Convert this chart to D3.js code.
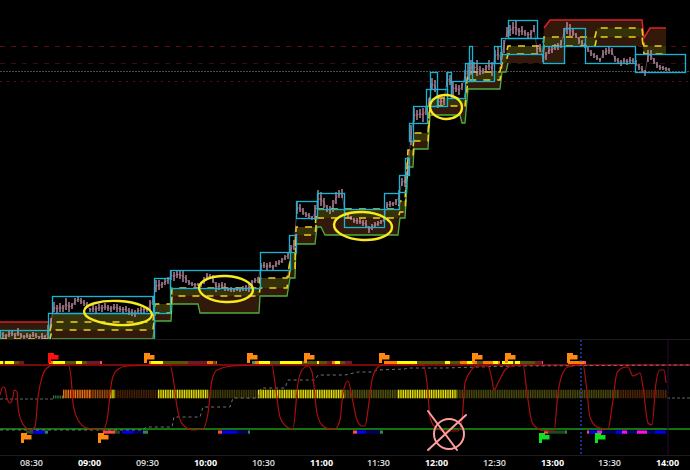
<!DOCTYPE html>
<html><head><meta charset="utf-8">
<script src="https://cdnjs.cloudflare.com/ajax/libs/d3/7.8.5/d3.min.js"></script>
<style>html,body{margin:0;padding:0;background:#000;overflow:hidden}svg{display:block}</style>
</head><body><svg id="c" width="690" height="470"></svg>
<script>
// ---------- data ----------
const tickBars=[31,89,147,205,263,321,378,436,494,552,609,667];
const tickLabels=["08:30","09:00","09:30","10:00","10:30","11:00","11:30","12:00","12:30","13:00","13:30","14:00"];
const barStep=3;
const barHigh=[10,8,6,9,10,7,12,7,5,7,6,8,7,4,7,5,15,22,38,35,37,35,42,38,37,42,44,42,40,38,32,35,34,36,35,37,35,34,36,36,34,33,34,32,31,30,32,33,34,33,40,44,60,60,58,62,63,70,68,70,69,70,65,60,58,57,57,56,63,67,66,65,58,57,58,57,52,53,52,53,52,54,55,56,60,62,63,77,78,77,78,75,79,80,82,85,88,95,100,138,136,132,128,127,124,135,150,148,142,135,134,140,148,150,151,128,126,124,122,122,121,120,120,114,116,118,119,120,122,138,139,138,141,150,162,165,175,215,232,230,231,232,234,242,262,260,245,242,243,268,265,258,256,255,257,270,277,280,278,280,274,272,275,280,278,290,293,288,300,313,315,318,320,312,314,310,308,310,315,295,296,285,288,294,293,296,297,300,312,318,316,312,307,303,300,297,293,290,287,285,282,290,292,293,292,284,282,280,282,281,283,282,280,276,274,270,290,290,282,278,275,274,273,272];
const barLow=[4,2,1,3,4,1,4,2,1,2,1,3,2,1,1,1,1,14,28,27,28,28,30,28,31,35,38,36,34,32,28,28,27,29,28,30,29,28,30,28,28,27,28,25,24,23,26,27,27,28,30,35,48,50,52,55,56,60,59,62,61,58,57,55,54,53,54,53,56,60,61,57,48,50,52,49,49,48,48,49,48,49,49,48,54,57,57,70,72,69,72,70,73,75,77,80,81,88,90,126,128,125,123,122,120,120,132,134,132,128,126,128,136,142,142,124,122,120,117,116,116,114,112,107,110,112,114,116,118,132,133,134,135,137,154,153,165,195,218,220,222,218,225,234,250,248,232,234,235,253,255,245,248,245,250,258,260,265,268,264,265,266,268,270,264,277,280,275,287,303,304,306,305,304,305,304,302,302,308,287,288,278,280,286,287,290,290,292,302,306,304,304,302,296,294,292,288,284,282,280,278,282,285,286,285,278,276,274,277,275,276,277,274,270,268,264,278,280,276,272,270,270,269,269];

const bandBar=[0,48,52,153,155,171,172,198,200,259,260,287,290,295,296,315,317,321,325,398,400,405,408,413,414,428,430,460,462,465,468,500,502,506,508,543,544,550,564,566,595,597,642,644,650,666];
const bandTop=[18,18,27,27,36,36,52,52,52,52,62,62,88,88,113,113,131,131,131,131,139,139,190,190,207,207,242,242,242,242,268,268,286,286,294,294,312,320,320,320,320,320,320,302,312,312];
const bandOlive=[10,10,27,27,36,36,52,52,52,52,62,62,88,88,113,113,131,131,131,131,139,139,190,190,207,207,242,242,242,242,268,268,286,286,294,294,303,303,303,303,303,312,312,294,294,294];
const bandDashA=[1,1,18,18,36,36,52,52,52,52,62,62,78,78,113,113,131,131,131,131,139,139,190,190,207,207,242,242,242,242,268,268,286,286,294,294,303,303,303,303,303,312,312,294,294,294];
const bandDashB=[-8,-8,10,10,27,27,44,44,44,44,52,52,70,70,105,105,122,122,122,122,128,128,182,182,199,199,234,234,234,234,260,260,277,277,286,286,294,294,294,294,294,303,303,286,286,286];
const bandBottom=[-16,-16,1,1,19,19,36,36,27,27,44,44,62,62,96,96,113,113,105,105,122,122,173,173,191,191,225,225,217,217,251,251,268,268,277,277,277,277,277,294,294,294,294,286,286,286];
const greenFromBar=52, greenToBar=508, redFromBar=544;

const boxFrom=[0,48,52,154,170,260,289,296,296,317,344,384,399,405,409,413,426,430,447,451,465,469,494,501,508,508,543,564,585,635];
const boxTo=[48,154,153,170,260,290,296,317,296,344,384,399,406,409,413,427,447,437,451,465,494,472,501,543,537,508,564,585,635,685];
const boxHigh=[10,27,44,62,70,88,105,139,122,147,131,147,165,182,217,234,251,268,268,259,277,294,294,302,320,302,294,312,294,286];
const boxLow=[-5,-5,27,27,52,70,88,122,105,131,113,131,148,165,199,217,234,234,242,242,259,259,277,286,302,277,277,294,277,268];

const levelPrice=[294,277,269,259];
const levelColor=["#5a1010","#3a0c0c","#4a4a4a","#5a1010"];
const levelDash=["5 6","5 6","2 1","2 5"];

const ringBar=[118,226,363,446];
const ringPrice=[27,51,114,233];
const ringWide=[34,27,29,16];
const ringTall=[12,13,14,12];

// lower pane
const oscBar=[0,3,5,7,10,13,14,17,18,21,25,30,35,38,42,47,53,68,71,73,78,87,103,107,112,117,127,170,173,177,183,193,203,208,212,217,233,272,275,280,287,293,298,302,308,312,317,322,330,335,340,343,348,352,357,362,365,368,372,377,382,423,427,430,435,445,458,462,465,470,477,488,492,494,498,505,512,523,527,532,537,545,554,558,562,568,583,586,590,597,608,612,617,622,628,633,640,643,648,652,656,660,664,666];
const oscValue=[35,43,42,32,27,33,40,38,23,10,3,0,3,33,53,62,65,65,53,27,10,2,0,10,50,60,64,65,53,23,5,0,1,17,50,60,64,65,47,13,3,1,47,60,64,58,17,5,1,1,10,37,49,33,10,4,4,20,50,62,65,65,47,13,3,-1,-1,10,47,58,64,64,50,40,47,60,64,65,37,8,2,-1,-1,37,55,63,65,47,13,3,1,23,57,62,63,54,57,43,7,5,47,60,60,47];
const stepBar=[0,143,146,172,174,200,203,230,233,258,261,285,288,315,318,345,358,373,377,405,408,445,512,690];
const stepValue=[0,0,3,3,13,13,23,23,32,32,42,42,50,50,55,55,58,58,60,61,62,62,64,65];
const lineLevels=[65,1];
const lineColors=["#a00c0c","#1a9a1a"];
const stateColor={yellow:"#ffff00",olive:"#55550a",maroon:"#6b1a2a",orange:"#ff7a00",pink:"#ff4a68",teal:"#2f9a5c",green:"#2f8a4a",dkgreen:"#1c4a22",blue:"#0000f0",navy:"#000060",red:"#ff4848",magenta:"#ff10e8"};
const upFrom=[0,3,5,14,19,49,53,65,76,82,87,100,149,151,163,188,207,213,216,252,255,259,270,280,302,317,319,327,332,335,340,345,384,397,417,445,450,460,467,473,477,483,493,498,502,513,515,520,535,542,568,577,584];
const upTo=[3,5,14,19,24,53,65,76,82,87,100,102,151,163,188,207,213,216,217,255,259,270,280,302,317,319,327,332,335,340,345,352,397,417,445,450,460,467,473,477,483,493,498,500,513,515,520,535,542,543,577,584,586];
const upState=["yellow","olive","yellow","olive","maroon","orange","yellow","olive","yellow","olive","maroon","pink","orange","yellow","olive","maroon","orange","olive","pink","teal","orange","yellow","olive","yellow","olive","yellow","olive","maroon","orange","yellow","olive","maroon","orange","yellow","olive","yellow","olive","orange","yellow","orange","olive","orange","yellow","orange","yellow","olive","yellow","olive","maroon","pink","orange","orange","pink"];
const dnFrom=[26,33,45,103,115,122,133,143,218,222,237,248,353,357,366,380,544,548,565,587,589,597,602,616,622,627,637,647,655];
const dnTo=[33,45,48,115,120,133,143,148,222,237,248,250,357,366,380,383,548,565,567,589,597,602,616,622,627,637,647,655,666];
const dnState=["dkgreen","blue","green","red","dkgreen","blue","navy","green","red","blue","navy","green","red","blue","navy","green","red","dkgreen","green","red","blue","magenta","navy","blue","magenta","navy","magenta","navy","blue"];
const midFrom=[63,90,110,115,158,208,258,345,398,457,618];
const midTo=[90,110,115,158,208,258,345,398,457,618,667];
const midColor=["#f07010","#a04c10","#f0ea00","#462208","#e8e000","#403e08","#ece400","#57540e","#ece400","#4c4a0e","#4c2608"];
const greyDashFrom=[0,667], greyDashTo=[55,690], greyDashValue=[31,32];
const flagBar=[48,144,247,304,379,472,505,567,21,98,539,595];
const flagValue=[77,77,77,77,77,77,77,77,-3,-3,-3,-3];
const flagColor=["#ff1010","#ff8a10","#ff8a10","#ff8a10","#ff8a10","#ff8a10","#ff8a10","#ff8a10","#ff8a10","#ff8a10","#10e020","#10e020"];
const nowBar=581, endBar=668;
const xCircle={bar:449,value:-4,r:15};
const xStrokes=[[428,19,457,-20],[428,-20,466,15]];

// ---------- scales ----------
const W=690,H=470;
const x=d3.scaleLinear().domain([0,690]).range([0,W]);
const py=d3.scaleLinear().domain([0,340]).range([340,0]);
const oy=d3.scaleLinear().domain([0,65]).range([430,365]);
const snap=v=>Math.round(v)+.5;
const svg=d3.select("#c");
svg.append("rect").attr("width",W).attr("height",H).attr("fill","#000");
svg.append("defs").append("clipPath").attr("id","pp").append("rect").attr("width",W).attr("height",339);

// ---------- price pane ----------
const pane=svg.append("g").attr("clip-path","url(#pp)");
pane.selectAll(".lvl").data(levelPrice).join("line").attr("x1",0).attr("x2",W)
 .attr("y1",d=>snap(py(d))).attr("y2",d=>snap(py(d)))
 .attr("stroke",(d,i)=>levelColor[i]).attr("stroke-dasharray",(d,i)=>levelDash[i]);
const idx=d3.range(bandBar.length);
const area=(a,b)=>d3.area().x(i=>x(bandBar[i])).y0(i=>py(b[i])).y1(i=>py(a[i]));
pane.append("path").attr("d",area(bandTop,bandBottom)(idx)).attr("fill","#32190a");
pane.append("path").attr("d",area(bandOlive,bandDashB)(idx)).attr("fill","#35320a");
const lineOf=(arr,sub)=>d3.line().x(i=>x(bandBar[i])).y(i=>py(arr[i]))(sub);
pane.append("path").attr("d",lineOf(bandBottom,idx.filter(i=>bandBar[i]>=greenFromBar&&bandBar[i]<=greenToBar)))
 .attr("fill","none").attr("stroke","#4cae42").attr("stroke-width",1.3);
pane.append("path").attr("d",lineOf(bandTop,idx.filter(i=>bandBar[i]>=redFromBar)))
 .attr("fill","none").attr("stroke","#e0202c").attr("stroke-width",1.5);
pane.append("path").attr("d",lineOf(bandTop,idx.filter(i=>bandBar[i]<=48)))
 .attr("fill","none").attr("stroke","#d0202c").attr("stroke-width",1.5);
[bandDashA,bandDashB].forEach(a=>pane.append("path").attr("d",lineOf(a,idx))
 .attr("fill","none").attr("stroke","#f0cf1e").attr("stroke-width",1.6).attr("stroke-dasharray","7 7"));
pane.append("path").attr("d",d3.line().x((d,i)=>x(i*barStep)).y((d,i)=>py((d+barLow[i])/2))(barHigh))
 .attr("fill","none").attr("stroke","#b07898").attr("stroke-width",.7).attr("opacity",.7);
pane.selectAll(".bar").data(barHigh).join("line")
 .attr("x1",(d,i)=>x(i*barStep)).attr("x2",(d,i)=>x(i*barStep))
 .attr("y1",d=>py(d)).attr("y2",(d,i)=>py(barLow[i]))
 .attr("stroke","#dca0bc").attr("stroke-width",1.2);
pane.selectAll(".box").data(boxFrom).join("rect")
 .attr("x",d=>snap(x(d))).attr("width",(d,i)=>snap(x(boxTo[i]))-snap(x(d)))
 .attr("y",(d,i)=>snap(py(boxHigh[i]))).attr("height",(d,i)=>snap(py(boxLow[i]))-snap(py(boxHigh[i])))
 .attr("fill","none").attr("stroke","#14b6d8").attr("stroke-width",1.3);
pane.selectAll(".ring").data(ringBar).join("ellipse")
 .attr("cx",d=>x(d)).attr("cy",(d,i)=>py(ringPrice[i]))
 .attr("rx",(d,i)=>x(ringWide[i])-x(0)).attr("ry",(d,i)=>py(0)-py(ringTall[i]))
 .attr("transform",(d,i)=>`rotate(3 ${x(d)} ${py(ringPrice[i])})`)
 .attr("fill","none").attr("stroke","#f8ea20").attr("stroke-width",2.4);

// ---------- lower pane ----------
svg.append("line").attr("x1",0).attr("x2",W).attr("y1",339.5).attr("y2",339.5).attr("stroke","#1c1c1c");
svg.append("line").attr("x1",0).attr("x2",W).attr("y1",455.5).attr("y2",455.5).attr("stroke","#1c1c1c");
midFrom.forEach((f,i)=>{
 const g=svg.append("g").attr("stroke",midColor[i]).attr("stroke-width",8.5);
 const seg=()=>g.append("line").attr("x1",x(f)).attr("x2",x(midTo[i])).attr("y1",oy(36)).attr("y2",oy(36));
 seg().attr("opacity",.3);
 seg().attr("stroke-dasharray","1.25 1.1");
});
svg.append("line").attr("x1",x(53)).attr("x2",x(63)).attr("y1",oy(33)).attr("y2",oy(33)).attr("stroke","#2f8a4a").attr("stroke-width",3).attr("stroke-dasharray","1.2 1");
greyDashFrom.forEach((f,i)=>svg.append("line").attr("x1",x(f)).attr("x2",x(greyDashTo[i]))
 .attr("y1",oy(greyDashValue[i])).attr("y2",oy(greyDashValue[i])).attr("stroke","#5a6a5a").attr("stroke-dasharray","3 2"));
svg.selectAll(".up").data(upFrom).join("rect").attr("x",d=>x(d)).attr("width",(d,i)=>x(upTo[i])-x(d))
 .attr("y",oy(65)-4).attr("height",3.2).attr("fill",(d,i)=>stateColor[upState[i]]);
svg.selectAll(".dn").data(dnFrom).join("rect").attr("x",d=>x(d)).attr("width",(d,i)=>x(dnTo[i])-x(d))
 .attr("y",oy(0)+.5).attr("height",3.2).attr("fill",(d,i)=>stateColor[dnState[i]]);
svg.selectAll(".hl").data(lineLevels).join("line").attr("x1",0).attr("x2",W)
 .attr("y1",d=>oy(d)).attr("y2",d=>oy(d)).attr("stroke",(d,i)=>lineColors[i]).attr("stroke-width",1.3);
svg.append("path").attr("d",d3.line().x(d=>x(d)).y((d,i)=>oy(stepValue[i]))(stepBar))
 .attr("fill","none").attr("stroke","#808080").attr("stroke-width",.9).attr("stroke-dasharray","3 3");
svg.append("path").attr("d",d3.line().curve(d3.curveMonotoneX).x(d=>x(d)).y((d,i)=>oy(oscValue[i]))(oscBar))
 .attr("fill","none").attr("stroke","#a80f0f").attr("stroke-width",1.2);
svg.append("line").attr("x1",x(nowBar)).attr("x2",x(nowBar)).attr("y1",340).attr("y2",455)
 .attr("stroke","#2a50e0").attr("stroke-width",1.2).attr("stroke-dasharray","2 2");
svg.append("line").attr("x1",x(endBar)).attr("x2",x(endBar)).attr("y1",340).attr("y2",455)
 .attr("stroke","#2a0a38").attr("stroke-width",1);
svg.selectAll(".flag").data(flagBar).join("path")
 .attr("d","M0 0H6V2H10.5V6.5H3V10H0Z")
 .attr("transform",(d,i)=>`translate(${x(d)},${oy(flagValue[i])})`)
 .attr("fill",(d,i)=>flagColor[i]);
svg.append("ellipse").attr("cx",x(xCircle.bar)).attr("cy",oy(xCircle.value))
 .attr("rx",x(xCircle.r)-x(0)).attr("ry",oy(0)-oy(xCircle.r))
 .attr("fill","none").attr("stroke","#ff9c9c").attr("stroke-width",2);
svg.selectAll(".xs").data(xStrokes).join("line")
 .attr("x1",d=>x(d[0])).attr("y1",d=>oy(d[1])).attr("x2",d=>x(d[2])).attr("y2",d=>oy(d[3]))
 .attr("stroke","#ff9c9c").attr("stroke-width",2).attr("stroke-linecap","round");

// ---------- time axis ----------
const ax=svg.append("g").attr("transform","translate(0,455)")
 .call(d3.axisBottom(x).tickValues(tickBars).tickSize(0).tickPadding(5).tickFormat((d,i)=>tickLabels[i]));
ax.select(".domain").remove();
ax.selectAll("text").attr("font-family","'Open Sans',sans-serif").attr("font-size",9)
 .attr("font-weight",(d,i)=>tickLabels[i].endsWith(":00")?700:600)
 .attr("fill",(d,i)=>tickLabels[i].endsWith(":00")?"#fff":"#e0e0e0");
</script></body></html>
